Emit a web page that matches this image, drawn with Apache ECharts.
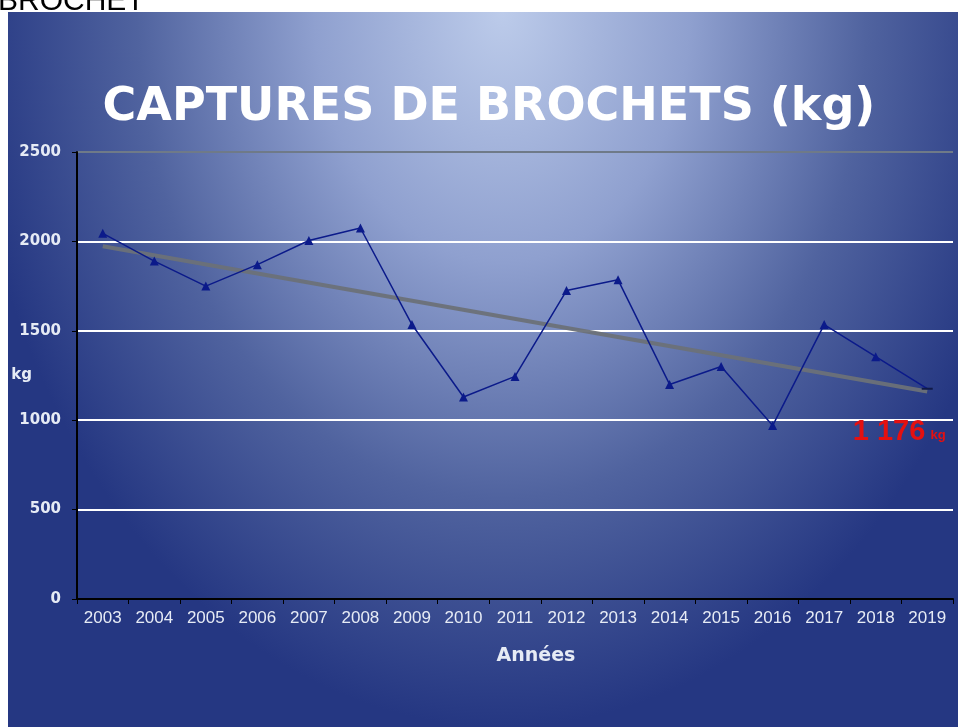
<!DOCTYPE html>
<html>
<head>
<meta charset="utf-8">
<script src="https://cdn.jsdelivr.net/npm/echarts@6/dist/echarts.min.js"></script>
<style>
  html, body { margin: 0; padding: 0; background: #fff; }
  #chart { width: 958px; height: 727px; }
</style>
</head>
<body>
<div id="chart"></div>
<script>
const years = ["2003", "2004", "2005", "2006", "2007", "2008", "2009", "2010", "2011",
  "2012", "2013", "2014", "2015", "2016", "2017", "2018", "2019"];
const captures = [2045, 1890, 1750, 1870, 2005, 2075, 1535, 1130, 1245,
  1725, 1785, 1200, 1300, 970, 1535, 1355, 1176];
// tendance linéaire (début / fin)
const trend = [[0, 1973], [16, 1160]];
const yTicks = { min: 0, max: 2500, interval: 500 };

const chart = echarts.init(document.getElementById("chart"));

const labelColor = "#e6ebf5";
const last = captures.length - 1;

const seriesData = captures.map((v, i) => {
  if (i !== last) return v;
  return {
    value: v,
    symbol: "rect",
    symbolSize: [11, 2],
    itemStyle: { color: "#101a48" },
    label: {
      show: true,
      position: "inside",
      offset: [-28, 43],
      formatter: "{a|1 176} {b|kg}",
      rich: {
        a: { color: "#e41010", fontSize: 29, fontWeight: "bold", fontFamily: "Liberation Sans" },
        b: { color: "#e41010", fontSize: 13, fontWeight: "bold", fontFamily: "Liberation Sans", padding: [8, 0, 0, 2] },
      },
    },
  };
});

const option = {
  animation: false,
  graphic: [
    {
      type: "rect",
      z: -10,
      x: 8,
      y: 12,
      scaleX: 0.75,
      shape: { x: 0, y: 0, width: 950 / 0.75, height: 715 },
      style: {
        fill: {
          type: "radial",
          x: 0.52,
          y: 0.0,
          r: 1.0,
          colorStops: [
            { offset: 0, color: "#bccbea" },
            { offset: 0.35, color: "#8fa0cf" },
            { offset: 0.68, color: "#50639f" },
            { offset: 1, color: "#253782" },
          ],
        },
      },
    },
    {
      type: "text",
      x: -2,
      y: 2,
      style: {
        text: "BROCHET",
        fill: "#000",
        font: "30px 'Liberation Sans'",
        verticalAlign: "middle",
      },
    },
  ],
  title: {
    text: "CAPTURES DE BROCHETS (kg)",
    left: 484,
    textAlign: "center",
    top: 80,
    textStyle: {
      color: "#ffffff",
      fontSize: 46,
      fontWeight: "bold",
      fontFamily: "DejaVu Sans",
    },
  },
  grid: { left: 77, right: 5, top: 152, bottom: 128, outerBoundsMode: "none" },
  xAxis: {
    type: "category",
    data: years,
    boundaryGap: true,
    axisLine: { lineStyle: { color: "#000", width: 2 } },
    axisTick: { show: true, length: 5, lineStyle: { color: "#000" } },
    axisLabel: { color: labelColor, fontSize: 17, fontFamily: "Liberation Sans", margin: 11 },
    name: "Années",
    nameLocation: "middle",
    nameGap: 48,
    nameMoveOverlap: false,
    nameTextStyle: {
      color: labelColor, fontSize: 19, fontWeight: "bold", fontFamily: "DejaVu Sans",
      padding: [0, 0, 0, 42],
    },
  },
  yAxis: {
    type: "value",
    min: yTicks.min,
    max: yTicks.max,
    interval: yTicks.interval,
    name: "kg",
    nameLocation: "middle",
    nameRotate: 0,
    nameGap: 45,
    nameMoveOverlap: false,
    nameTextStyle: { color: labelColor, fontSize: 15, fontWeight: "bold", fontFamily: "DejaVu Sans" },
    axisLine: { show: true, lineStyle: { color: "#000", width: 2 } },
    axisTick: { show: true, length: 5, lineStyle: { color: "#000" } },
    axisLabel: {
      color: labelColor, fontSize: 15, fontWeight: "bold", fontFamily: "DejaVu Sans", margin: 16,
      formatter: (v) => String(v),
    },
    splitLine: {
      show: true,
      lineStyle: {
        color: ["#ffffff", "#ffffff", "#ffffff", "#ffffff", "#ffffff", "#6f7a88"],
        width: 2,
      },
    },
  },
  series: [
    {
      name: "Tendance",
      type: "line",
      data: trend,
      symbol: "none",
      z: 1,
      lineStyle: { color: "#6c7178", width: 4, opacity: 0.95 },
      silent: true,
    },
    {
      name: "Captures",
      type: "line",
      data: seriesData,
      z: 3,
      symbol: "triangle",
      symbolSize: 9,
      showAllSymbol: true,
      color: "#0b1a8a",
      lineStyle: { color: "#0b1a8a", width: 1.5 },
    },
  ],
};

chart.setOption(option);
</script>
</body>
</html>
